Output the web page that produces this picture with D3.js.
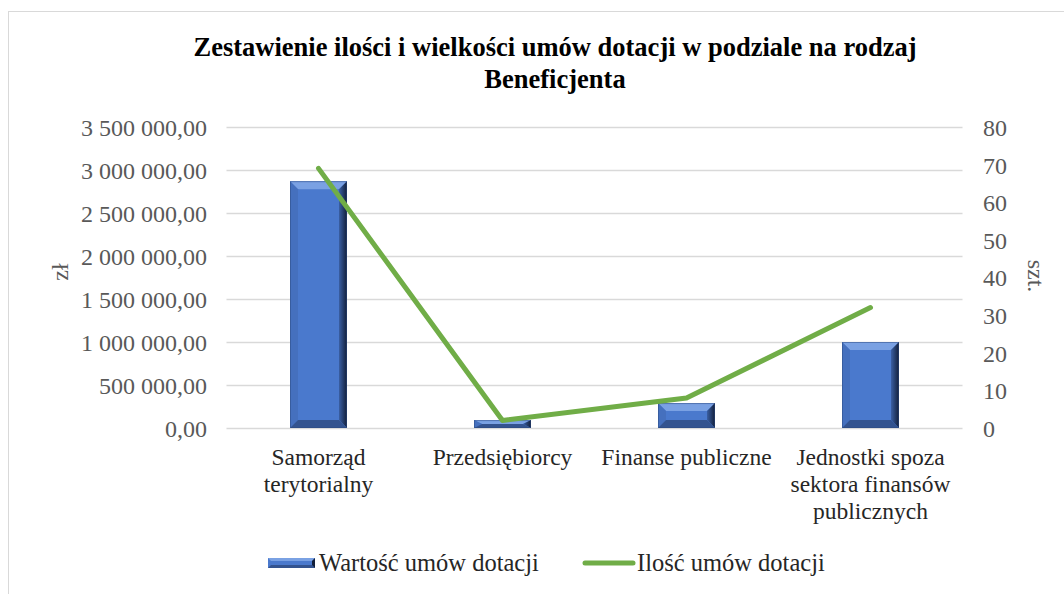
<!DOCTYPE html>
<meta charset="utf-8">
<style>
    body { margin: 0; background: #fff; }
    svg, svg text, .tick text { font-family: "Liberation Serif", "Times New Roman", serif; }
    .tick text { fill: #595959; font-size: 24px; }
</style>
<svg width="1064" height="594"></svg>
<script src="https://d3js.org/d3.v7.min.js"></script>
<script>

    var categories = [["Samorząd", "terytorialny"], ["Przedsiębiorcy"], ["Finanse publiczne"],
        ["Jednostki spoza", "sektora finansów", "publicznych"]];
    var wartosc = [2870000, 92000, 290000, 1000000];   // zł
    var ilosc = [69, 2, 8, 32];                          // szt.
    var leftTicks = [0, 500000, 1000000, 1500000, 2000000, 2500000, 3000000, 3500000];
    var rightTicks = [0, 10, 20, 30, 40, 50, 60, 70, 80];

    var svg = d3.select("svg"),
        width = +svg.attr("width"),
        height = +svg.attr("height");

    // chart frame
    svg.append("rect")
        .attr("x", 8.5).attr("y", 11.5)
        .attr("width", 1070).attr("height", 600)
        .attr("fill", "#fff")
        .attr("stroke", "#d9d9d9");

    var x = d3.scaleBand()
        .domain(d3.range(categories.length))
        .range([226.5, 962.5]);

    var yL = d3.scaleLinear().domain([0, 3500000]).range([428, 127]);
    var yR = d3.scaleLinear().domain([0, 80]).range([428, 127]);

    // gridlines
    svg.append("g")
        .selectAll("line")
        .data(leftTicks)
        .enter().append("line")
        .attr("x1", x.range()[0]).attr("x2", x.range()[1])
        .attr("y1", function (d) { return Math.round(yL(d)) + 0.5; })
        .attr("y2", function (d) { return Math.round(yL(d)) + 0.5; })
        .attr("stroke", "#d9d9d9")
        .attr("stroke-width", 1.3);

    var fmt = function (d) {
        var s = d3.format(",.2f")(d);
        return s.replace(/\./, "#").replace(/,/g, " ").replace("#", ",");
    };

    svg.append("g")
        .attr("transform", "translate(218,0)")
        .call(d3.axisLeft(yL).tickValues(leftTicks).tickSize(0).tickPadding(11).tickFormat(fmt))
        .call(function (g) { g.select(".domain").remove(); g.attr("font-family", null); })
        .selectAll("text").attr("dy", "0.35em");

    svg.append("g")
        .attr("transform", "translate(972,0)")
        .call(d3.axisRight(yR).tickValues(rightTicks).tickSize(0).tickPadding(11))
        .call(function (g) { g.select(".domain").remove(); g.attr("font-family", null); })
        .selectAll("text").attr("dy", "0.35em");

    // axis titles
    svg.append("text")
        .attr("transform", "translate(68,272) rotate(-90)")
        .attr("text-anchor", "middle")
        .attr("fill", "#595959").attr("font-size", 24)
        .text("zł");
    svg.append("text")
        .attr("transform", "translate(1028,276) rotate(90)")
        .attr("text-anchor", "middle")
        .attr("fill", "#595959").attr("font-size", 24)
        .text("szt.");

    // bars with bevel
    var bw = 57, bev = 8;
    var defs = svg.append("defs");
    var gr = defs.append("linearGradient").attr("id", "rightBevel")
        .attr("x1", 0).attr("x2", 1).attr("y1", 0).attr("y2", 0);
    gr.append("stop").attr("offset", "0%").attr("stop-color", "#3a5fa3");
    gr.append("stop").attr("offset", "100%").attr("stop-color", "#121f3a");

    var bars = svg.append("g").selectAll("g")
        .data(wartosc)
        .enter().append("g");

    function poly(pts) { return "M" + pts.map(function (p) { return p.join(","); }).join("L") + "Z"; }

    bars.each(function (d, i) {
        var g = d3.select(this);
        var x0 = x(i) + x.bandwidth() / 2 - bw / 2, x1 = x0 + bw;
        var y0 = yL(d), y1 = yL(0);
        var b = Math.min(bev, (y1 - y0) / 2);
        g.append("rect").attr("x", x0).attr("y", y0).attr("width", bw).attr("height", y1 - y0)
            .attr("fill", "#4a79cd");
        g.append("path").attr("d", poly([[x0, y0], [x1, y0], [x1 - bev, y0 + b], [x0 + bev, y0 + b]]))
            .attr("fill", "#7aa1e3");
        g.append("path").attr("d", poly([[x0, y0], [x0 + bev, y0 + b], [x0 + bev, y1 - b], [x0, y1]]))
            .attr("fill", "#4570be");
        g.append("path").attr("d", poly([[x1, y0], [x1, y1], [x1 - bev, y1 - b], [x1 - bev, y0 + b]]))
            .attr("fill", "url(#rightBevel)");
        g.append("path").attr("d", poly([[x0, y1], [x0 + bev, y1 - b], [x1 - bev, y1 - b], [x1, y1]]))
            .attr("fill", "#33538f");
        g.append("rect").attr("x", x0 + 0.5).attr("y", y0 + 0.5).attr("width", bw - 1).attr("height", y1 - y0 - 1)
            .attr("fill", "none").attr("stroke", "#2c4a80").attr("stroke-opacity", 0.5);
    });

    // line
    var line = d3.line()
        .x(function (d, i) { return x(i) + x.bandwidth() / 2; })
        .y(function (d) { return yR(d); });

    svg.append("path")
        .datum(ilosc)
        .attr("d", line)
        .attr("fill", "none")
        .attr("stroke", "#70ad47")
        .attr("stroke-width", 5)
        .attr("stroke-linecap", "round")
        .attr("stroke-linejoin", "round");

    // category labels
    svg.append("g").selectAll("text")
        .data(categories)
        .enter().append("text")
        .attr("x", function (d, i) { return x(i) + x.bandwidth() / 2; })
        .attr("y", 465)
        .attr("text-anchor", "middle")
        .attr("fill", "#262626")
        .attr("font-size", 23.5)
        .each(function (d) {
            var t = d3.select(this);
            d.forEach(function (s, j) {
                t.append("tspan").attr("x", t.attr("x")).attr("dy", j ? 27 : 0).text(s);
            });
        });

    // title
    var title = svg.append("text")
        .attr("x", 555).attr("y", 56)
        .attr("text-anchor", "middle")
        .attr("font-size", 26.5)
        .attr("font-weight", "bold")
        .attr("fill", "#000");
    title.append("tspan").attr("x", 555).text("Zestawienie ilości i wielkości umów dotacji w podziale na rodzaj");
    title.append("tspan").attr("x", 555).attr("dy", 32).text("Beneficjenta");

    // legend
    var lg = svg.append("g").attr("transform", "translate(0,563)");
    var lx0 = 268, lx1 = 315;
    lg.append("rect").attr("x", lx0).attr("y", -5).attr("width", lx1 - lx0).attr("height", 10).attr("fill", "#4a79cd");
    lg.append("path").attr("d", poly([[lx0, -5], [lx1, -5], [lx1 - 3, -2], [lx0 + 3, -2]])).attr("fill", "#7aa1e3");
    lg.append("path").attr("d", poly([[lx0, 5], [lx1, 5], [lx1 - 3, 2], [lx0 + 3, 2]])).attr("fill", "#33538f");
    lg.append("path").attr("d", poly([[lx1, -5], [lx1, 5], [lx1 - 3, 2], [lx1 - 3, -2]])).attr("fill", "#121f3a");
    lg.append("text").attr("x", 319).attr("y", 8).attr("font-size", 24.5).attr("fill", "#262626")
        .text("Wartość umów dotacji");
    lg.append("line").attr("x1", 585).attr("x2", 633).attr("y1", 0).attr("y2", 0)
        .attr("stroke", "#70ad47").attr("stroke-width", 5).attr("stroke-linecap", "round");
    lg.append("text").attr("x", 637).attr("y", 8).attr("font-size", 24.5).attr("fill", "#262626")
        .text("Ilość umów dotacji");

</script>
